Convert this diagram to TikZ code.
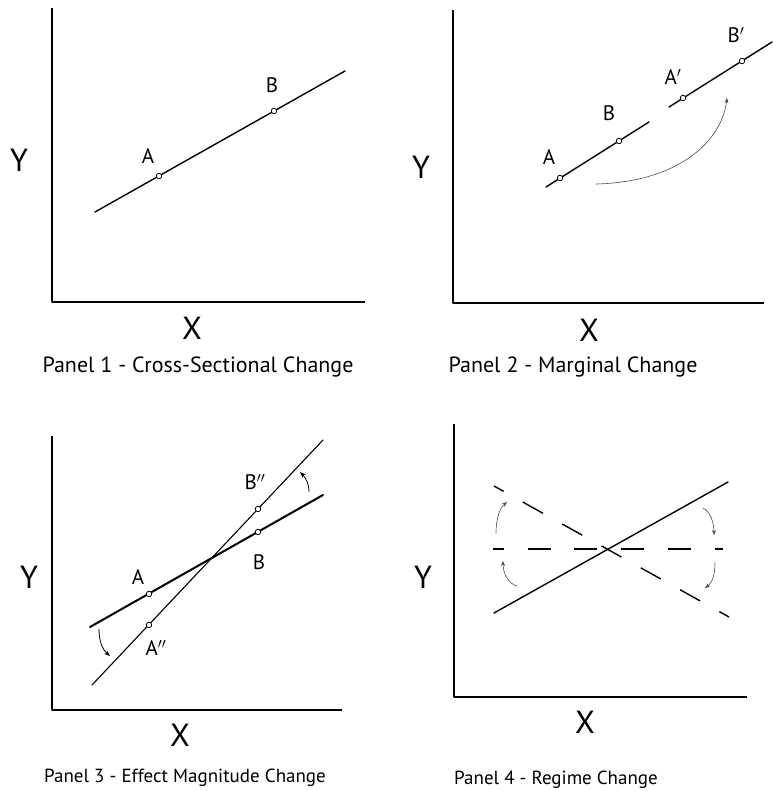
\documentclass[tikz,border=0pt]{standalone}
\usepackage{fontspec}
\setmainfont{PT Sans}
\usetikzlibrary{arrows.meta}

\begin{document}
\begin{tikzpicture}[x=1pt,y=-1pt,line cap=round,line join=round,
  axis/.style={line width=1.8pt,line cap=butt},
  trend/.style={line width=1.4pt},
  dot/.style={circle,draw,fill=white,line width=0.8pt,inner sep=0pt,minimum size=5.5pt},
  ptlbl/.style={font=\fontsize{21}{23}\selectfont},
  axlbl/.style={font=\fontsize{32}{34}\selectfont},
  titlebig/.style={font=\fontsize{22}{24}\selectfont},
  titlesmall/.style={font=\fontsize{19}{21}\selectfont},
  swing/.style={-{Stealth[length=5pt,width=4pt]},line width=0.6pt,black!70},
  turn/.style={-{Stealth[length=6pt,width=4.5pt]},line width=0.8pt}]
\useasboundingbox (0,0) rectangle (772,791);
% panel 1
\coordinate (o1) at (52,302);
\coordinate (y1) at (52,8);
\coordinate (x1) at (365,302);
\draw[axis] (y1) -- (o1) -- (x1);
\coordinate (s1) at (95,212);
\coordinate (e1) at (345,71);
\draw[trend] (s1) -- (e1);
\node[dot] (a1) at (159,176) {};
\node[dot] (b1) at (274,111) {};
\node[ptlbl] (la1) at (148,156) {A};
\node[ptlbl] (lb1) at (272,85) {B};
\node[axlbl] (ly1) at (19,160) {Y};
\node[axlbl] (lx1) at (192,328) {X};
\node[titlebig] (t1) at (198,367) {Panel 1 - Cross-Sectional Change};
% panel 2
\coordinate (o2) at (453,303);
\coordinate (y2) at (453,10);
\coordinate (x2) at (764,303);
\draw[axis] (y2) -- (o2) -- (x2);
\coordinate (s2) at (546,187);
\coordinate (e2) at (649,122);
\coordinate (s2p) at (669,107);
\coordinate (e2p) at (772,42);
\draw[trend] (s2) -- (e2);
\draw[trend] (s2p) -- (e2p);
\node[dot] (a2) at (560,178) {};
\node[dot] (b2) at (619,141) {};
\node[dot] (a2p) at (683,98) {};
\node[dot] (b2p) at (742,61) {};
\node[ptlbl] (la2) at (549,157) {A};
\node[ptlbl] (lb2) at (609,113) {B};
\node[ptlbl] (la2p) at (673,77) {A$'$};
\node[ptlbl] (lb2p) at (736,35) {B$'$};
\coordinate (m2s) at (596,184);
\coordinate (m2e) at (727,98);
\draw[swing] (m2s) .. controls (680,182) and (722,140) .. (m2e);
\node[axlbl] (ly2) at (421,167) {Y};
\node[axlbl] (lx2) at (589,330) {X};
\node[titlebig] (t2) at (573,367) {Panel 2 - Marginal Change};
% panel 3
\coordinate (o3) at (52,710);
\coordinate (y3) at (52,436);
\coordinate (x3) at (342,710);
\draw[axis] (y3) -- (o3) -- (x3);
\coordinate (s3) at (90,627);
\coordinate (e3) at (323,495);
\coordinate (s3n) at (92,685);
\coordinate (e3n) at (323,440);
\draw[line width=2pt] (s3) -- (e3);
\draw[line width=1.1pt] (s3n) -- (e3n);
\node[dot] (a3) at (149,594) {};
\node[dot] (b3) at (258,532) {};
\node[dot] (a3n) at (149,625) {};
\node[dot] (b3n) at (258,509) {};
\node[ptlbl] (la3) at (138,577) {A};
\node[ptlbl] (lb3) at (259,562) {B};
\node[ptlbl] (la3n) at (156,648) {A$''$};
\node[ptlbl] (lb3n) at (255,482) {B$''$};
\coordinate (m3s) at (99,629);
\coordinate (m3e) at (110,656);
\coordinate (n3s) at (309,492);
\coordinate (n3e) at (300,472);
\draw[turn] (m3s) .. controls (99,642) and (103,650) .. (m3e);
\draw[turn] (n3s) .. controls (309,484) and (306,478) .. (n3e);
\node[axlbl] (ly3) at (29,577) {Y};
\node[axlbl] (lx3) at (180,735) {X};
\node[titlesmall] (t3) at (185,778) {Panel 3 - Effect Magnitude Change};
% panel 4
\coordinate (o4) at (454,697);
\coordinate (y4) at (454,424);
\coordinate (x4) at (747,697);
\draw[axis] (y4) -- (o4) -- (x4);
\coordinate (s4) at (494,613);
\coordinate (e4) at (728,482);
\draw[trend] (s4) -- (e4);
\coordinate (h4s) at (493,549);
\coordinate (h4e) at (723,549);
\coordinate (d4s) at (494,486);
\coordinate (d4e) at (729,617);
\draw[trend,line cap=butt,dash pattern=on 23pt off 23.7pt,dash phase=12pt] (h4s) -- (h4e);
\draw[trend,line cap=butt,dash pattern=on 23pt off 22pt,dash phase=12pt] (d4s) -- (d4e);
\coordinate (tl4s) at (496,533);
\coordinate (tl4e) at (507,502);
\coordinate (bl4s) at (517,586);
\coordinate (bl4e) at (503,561);
\coordinate (tr4s) at (703,508);
\coordinate (tr4e) at (714,535);
\coordinate (br4s) at (715,563);
\coordinate (br4e) at (705,588);
\draw[swing] (tl4s) .. controls (496,518) and (500,508) .. (tl4e);
\draw[swing] (bl4s) .. controls (509,584) and (503,574) .. (bl4e);
\draw[swing] (tr4s) .. controls (711,512) and (714,524) .. (tr4e);
\draw[swing] (br4s) .. controls (715,575) and (712,583) .. (br4e);
\node[axlbl] (ly4) at (423,577) {Y};
\node[axlbl] (lx4) at (585,722) {X};
\node[titlesmall] (t4) at (556,780) {Panel 4 - Regime Change};
\end{tikzpicture}
\end{document}
